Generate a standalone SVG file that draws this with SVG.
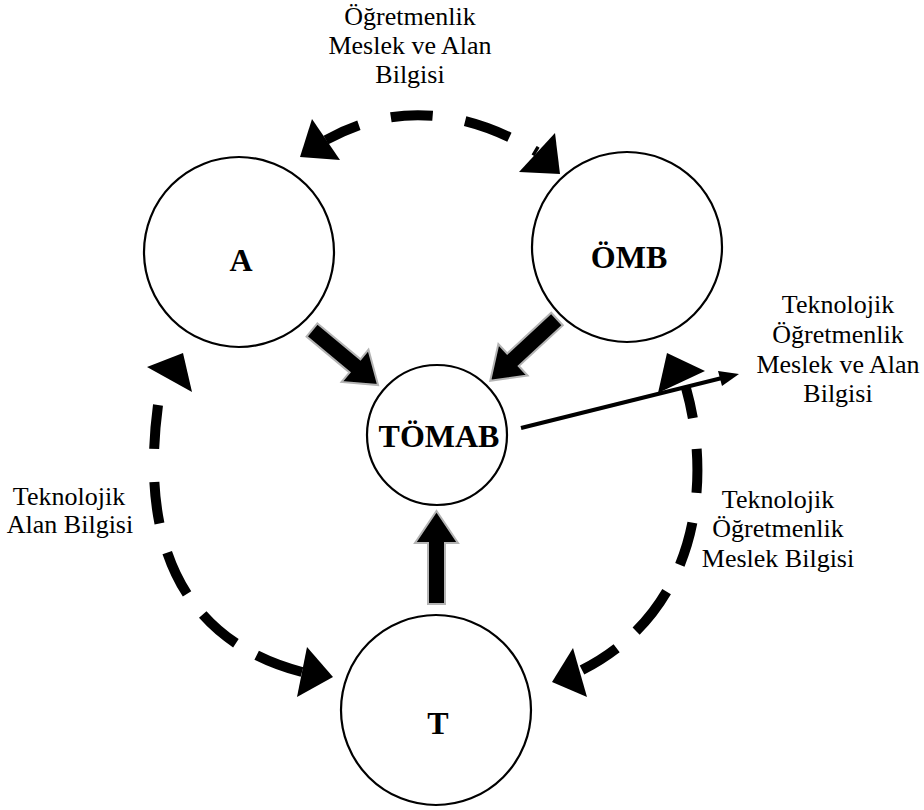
<svg xmlns="http://www.w3.org/2000/svg" width="924" height="810" viewBox="0 0 924 810">
<style>
.node{fill:#fff;stroke:#000;stroke-width:2.2}
.dash{fill:none;stroke:#000;stroke-width:10}
.head{fill:#000}
.block{fill:#000;stroke:#b4b4b4;stroke-width:2}
</style>
<rect width="924" height="810" fill="#fff"/>
<g id="connectors">
  <path class="dash" stroke-dasharray="36 33 42 33 47 28 60 0" d="M 326,140 Q 425,85 537,152"/>
  <polygon class="head" points="300,157 312,119 340,160"/>
  <polygon class="head" points="560,174 555,133 519,172"/>
  <path class="dash" stroke-dasharray="44 33 42 30 46 26 44 24 80 0" d="M 158,405 C 140,540 180,640 302,672"/>
  <polygon class="head" points="147,367 183,353 192,392"/>
  <polygon class="head" points="333,677 307,647 297,697"/>
  <path class="dash" stroke-dasharray="31 31 44 30 44 30 50 26 80 0" d="M 686,388 C 712,480 700,610 582,670"/>
  <polygon class="head" points="658,393 667,353 705,371"/>
  <polygon class="head" points="552,682 573,648 587,697"/>
  <polygon class="block" transform="translate(312,330) rotate(39.8)" points="0,-8.5 56,-8.5 56,-21 86,0 56,21 56,8.5 0,8.5"/>
  <polygon class="block" transform="translate(557,319) rotate(137.2)" points="0,-8.5 60,-8.5 60,-21.5 91,0 60,21.5 60,8.5 0,8.5"/>
  <polygon class="block" transform="translate(436.5,604) rotate(-90)" points="0,-8.5 61,-8.5 61,-21.5 93,0 61,21.5 61,8.5 0,8.5"/>
  <line x1="521" y1="428" x2="722" y2="378" stroke="#000" stroke-width="4"/>
  <polygon class="head" points="739,374 718,371 722,386"/>
</g>
<g id="node-A"><circle class="node" cx="239" cy="252" r="95"/><text x="241" y="271" font-family="Liberation Serif" font-weight="bold" font-size="32" text-anchor="middle">A</text></g>
<g id="node-OMB"><circle class="node" cx="627" cy="247" r="95"/><text x="629" y="268" font-family="Liberation Serif" font-weight="bold" font-size="32" text-anchor="middle">ÖMB</text></g>
<g id="node-TOMAB"><circle class="node" cx="437" cy="435" r="70"/><text x="439" y="447" font-family="Liberation Serif" font-weight="bold" font-size="32" text-anchor="middle">TÖMAB</text></g>
<g id="node-T"><circle class="node" cx="436" cy="710" r="95"/><text x="438" y="734" font-family="Liberation Serif" font-weight="bold" font-size="32" text-anchor="middle">T</text></g>
<g id="labels" font-family="Liberation Serif" font-size="26" text-anchor="middle" fill="#000">
  <text x="410" y="25" font-family="Liberation Serif">Öğretmenlik</text>
  <text x="410" y="54" font-family="Liberation Serif">Meslek ve Alan</text>
  <text x="410" y="83" font-family="Liberation Serif">Bilgisi</text>
  <text x="838" y="313" font-family="Liberation Serif">Teknolojik</text>
  <text x="838" y="343" font-family="Liberation Serif">Öğretmenlik</text>
  <text x="838" y="373" font-family="Liberation Serif">Meslek ve Alan</text>
  <text x="838" y="402" font-family="Liberation Serif">Bilgisi</text>
  <text x="778" y="508" font-family="Liberation Serif">Teknolojik</text>
  <text x="778" y="537" font-family="Liberation Serif">Öğretmenlik</text>
  <text x="778" y="567" font-family="Liberation Serif">Meslek Bilgisi</text>
  <text x="69" y="505" font-family="Liberation Serif">Teknolojik</text>
  <text x="70" y="533" font-family="Liberation Serif">Alan Bilgisi</text>
</g>
</svg>
